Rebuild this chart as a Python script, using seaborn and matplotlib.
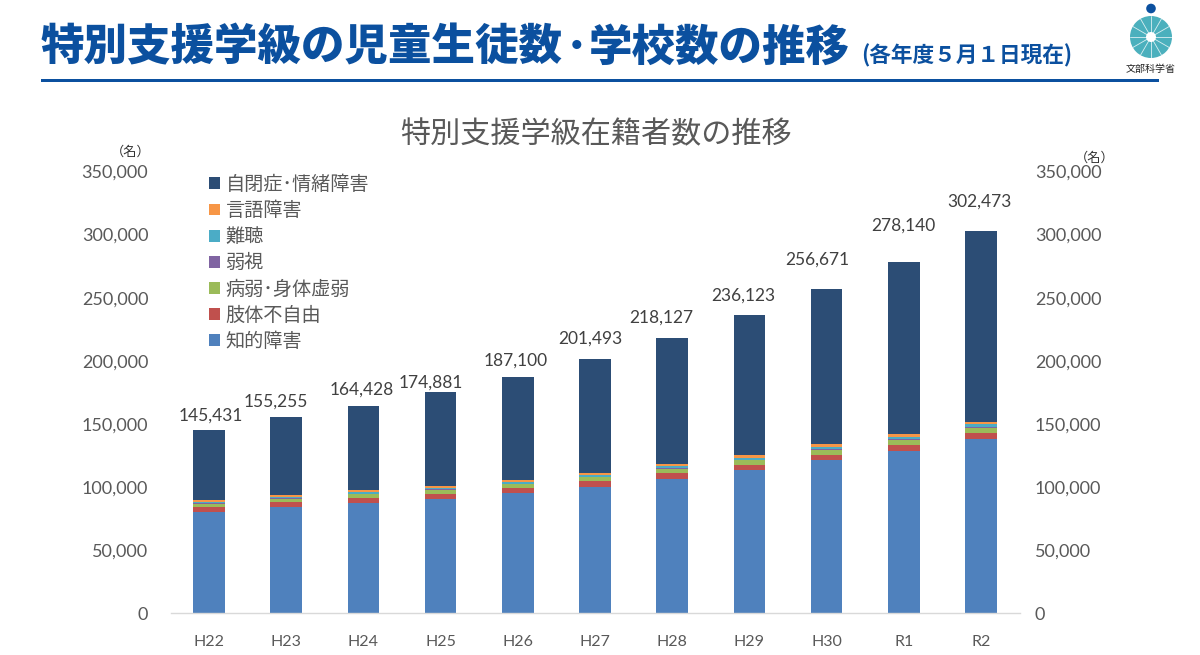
# -*- coding: utf-8 -*-
import numpy as np
import pandas
import seaborn
import matplotlib.pyplot as plt
from matplotlib.patches import Circle, Rectangle

years = ['H22', 'H23', 'H24', 'H25', 'H26', 'H27', 'H28', 'H29', 'H30', 'R1', 'R2']
totals = [145431, 155255, 164428, 174881, 187100, 201493, 218127, 236123, 256671, 278140, 302473]

chiteki = [80100, 83800, 87000, 90400, 94800, 100200, 106400, 113000, 121000, 128800, 138100]
shitai = [4300, 4300, 4300, 4200, 4200, 4400, 4500, 4500, 4500, 4500, 4400]
byojaku = [2400, 2600, 2900, 3000, 3000, 3000, 3200, 3500, 3900, 4000, 4400]
jakushi = [350, 400, 450, 500, 500, 500, 550, 550, 600, 600, 650]
nancho = [1100, 1150, 1200, 1250, 1300, 1400, 1500, 1600, 1700, 1800, 2100]
gengo = [1400, 1200, 1300, 1400, 1500, 1600, 1700, 1800, 2000, 2100, 1450]
jiheisho = [55781, 61805, 67278, 74131, 81800, 90393, 100277, 111173, 122971, 136340, 151373]

series_names = ['知的障害', '肢体不自由', '病弱･身体虚弱', '弱視', '難聴', '言語障害', '自閉症･情緒障害']
series_values = [chiteki, shitai, byojaku, jakushi, nancho, gengo, jiheisho]
series_colors = ['#4f81bd', '#c0504d', '#9bbb59', '#8064a2', '#4bacc6', '#f79646', '#2c4d75']

y_ticks = [0, 50000, 100000, 150000, 200000, 250000, 300000, 350000]

# 合計ラベルの位置調整 (px)
label_dx = [2, -10, -2, -10, -2, -5, -11, -6, -9, 0, -1]
label_dy = [14, 16, 16, 10, 16, 20, 20, 20, 30, 37, 30]

JP = ['Noto Sans CJK JP', 'DejaVu Sans']
NUM = ['Lato', 'Noto Sans CJK JP']
TEXT_GREY = '#595959'

seaborn.set_theme(style='white')
plt.rcParams['font.family'] = JP

W, H = 1200, 655
fig = plt.figure(figsize=(W / 100, H / 100), dpi=100)
ax = fig.add_axes([170.5 / W, 1 - 613 / H, 849 / W, 441.5 / H])

data = pandas.DataFrame({'year': years})
bottom = np.zeros(len(years))
for name, values, color in zip(series_names, series_values, series_colors):
    data[name] = values
    seaborn.barplot(data=data, x='year', y=name, color=color, bottom=bottom, width=0.41,
                    saturation=1, label=name, legend=False, ax=ax, linewidth=0)
    bottom = bottom + np.array(values)

ax.set_xlim(-0.5, len(years) - 0.5)
ax.set_ylim(0, 350000)
ax.set_yticks(y_ticks)
ax.set_yticklabels([f'{v:,}' for v in y_ticks], family=NUM, fontsize=13, color=TEXT_GREY)
ax.set_xlabel('')
ax.set_ylabel('')
ax.tick_params(axis='y', length=0, pad=16)
ax.tick_params(axis='x', length=0, pad=15.5)
for t in ax.get_xticklabels():
    t.set_family(NUM)
    t.set_fontsize(11.5)
    t.set_color(TEXT_GREY)
for s in ['top', 'left', 'right']:
    ax.spines[s].set_visible(False)
ax.spines['bottom'].set_color('#d9d9d9')
ax.spines['bottom'].set_linewidth(1)

ax2 = ax.twinx()
ax2.set_ylim(0, 350000)
ax2.set_yticks(y_ticks)
ax2.set_yticklabels([f'{v:,}' for v in y_ticks], family=NUM, fontsize=13, color=TEXT_GREY)
ax2.tick_params(axis='y', length=0, pad=11)
ax2.grid(False)
for s in ax2.spines.values():
    s.set_visible(False)

# 合計
for i, total in enumerate(totals):
    ax.annotate(f'{total:,}', xy=(i, total), xytext=(label_dx[i] * 0.72, label_dy[i] * 0.72),
                textcoords='offset points', ha='center', va='center',
                family=NUM, fontsize=12.5, color='#404040')

handles, labels = ax.get_legend_handles_labels()
leg = ax.legend(handles[::-1], labels[::-1], loc='upper left', bbox_to_anchor=(0.045, 0.994),
                frameon=False, fontsize=13.8, labelcolor=TEXT_GREY, handlelength=0.58, handleheight=0.58,
                handletextpad=0.3, labelspacing=0.265, borderpad=0, borderaxespad=0)

# 見出し、ロゴなどはピクセル座標のオーバーレイに描く
over = fig.add_axes([0, 0, 1, 1], facecolor='none')
over.set_xlim(0, W)
over.set_ylim(H, 0)
over.axis('off')

BLUE = '#0b509f'
over.text(41, 48, '特別支援学級の児童生徒数', fontsize=31.3, fontweight='black',
          color=BLUE, va='center', ha='left')
over.text(577, 48, '･', fontsize=31.3, fontweight='black', color=BLUE, va='center', ha='center')
over.text(589, 48, '学校数の推移', fontsize=31.3, fontweight='black',
          color=BLUE, va='center', ha='left')
over.text(861, 56, '(各年度５月１日現在)', fontsize=15.6, fontweight='bold', color=BLUE, va='center', ha='left')
over.add_patch(Rectangle((41, 78.5), 1118, 3.2, color=BLUE, lw=0))
over.text(596, 135, '特別支援学級在籍者数の推移', fontsize=21.7, color=TEXT_GREY, va='center', ha='center')
over.text(131, 152, '（名）', fontsize=9.5, color='#333333', va='center', ha='center')
over.text(1095, 158, '（名）', fontsize=9.5, color='#333333', va='center', ha='center')

# ロゴ
cx, cy = 1151, 37
over.add_patch(Circle((cx, 8.5), 4.8, color=BLUE, lw=0))
over.add_patch(Circle((cx, cy), 21, color='#4bb0bd', lw=0))
for a in np.deg2rad(np.arange(0, 360, 30)):
    over.plot([cx, cx + 21 * np.cos(a)], [cy, cy + 21 * np.sin(a)], color='white', lw=0.6, alpha=0.8)
over.add_patch(Circle((cx, cy), 5, color='white', lw=0, zorder=5))
over.text(cx, 69, '文部科学省', fontsize=7.2, color='#222222', va='center', ha='center')

fig.savefig('out.png', dpi=100)
